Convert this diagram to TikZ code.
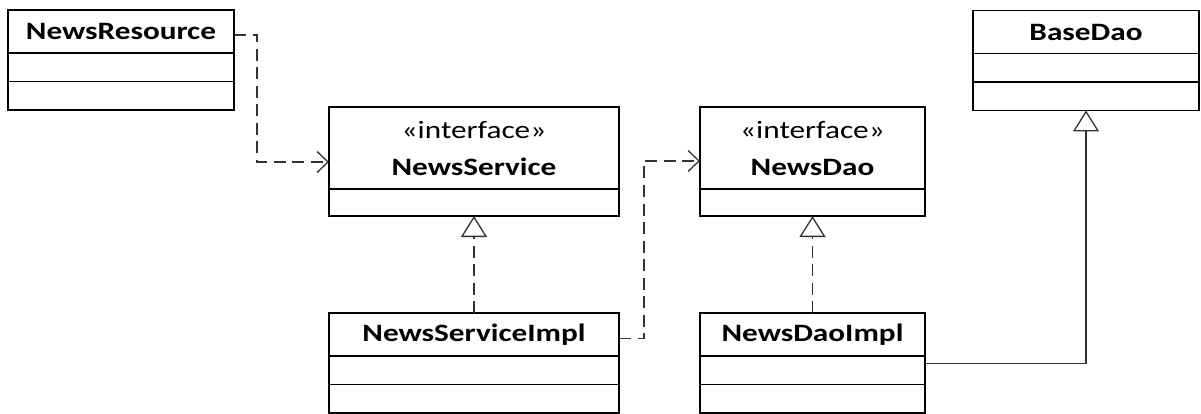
\documentclass[tikz,border=0pt]{standalone}
\usepackage{fontspec}
\setmainfont{Carlito}[FakeStretch=1.25]
\usetikzlibrary{positioning, arrows.meta}

\tikzset{
    box/.style={draw, line width=1.6pt, inner sep=0pt, outer sep=0pt},
    classname/.style={box, font=\fontsize{25}{37}\selectfont\bfseries, minimum height=43pt},
    iface/.style={classname, align=center, minimum height=82pt},
    compart/.style={box, minimum height=28.5pt},
    link/.style={draw=black!80, line width=1.3pt},
    uses/.style={link, dash pattern=on 12pt off 6.5pt, -{Straight Barb[length=11pt, width=21pt]}},
    realizes/.style={link, dash pattern=on 12pt off 6.5pt, -{Triangle[open, length=21pt, width=26pt]}},
    extends/.style={link, -{Triangle[open, length=21pt, width=26pt]}}
}

\begin{document}
\begin{tikzpicture}[x=1pt, y=1pt]
    \useasboundingbox (0,0) rectangle (1201,-414);

    % resource class
    \node[classname, minimum width=226pt] (res) at (121,-31.5) {NewsResource};
    \node[compart, minimum width=226pt, below=0pt of res] (res-attr) {};
    \node[compart, minimum width=226pt, below=0pt of res-attr] (res-ops) {};

    % service interface and its implementation
    \node[iface, minimum width=290pt] (svc) at (474,-148) {{\mdseries «interface»}\\NewsService};
    \node[compart, minimum width=290pt, minimum height=27pt, below=0pt of svc] (svc-ops) {};

    \node[classname, minimum width=290pt] (svcimpl) at (474,-334.5) {NewsServiceImpl};
    \node[compart, minimum width=290pt, below=0pt of svcimpl] (svcimpl-attr) {};
    \node[compart, minimum width=290pt, below=0pt of svcimpl-attr] (svcimpl-ops) {};

    % dao interface and its implementation
    \node[iface, minimum width=225pt] (dao) at (812.5,-148) {{\mdseries «interface»}\\NewsDao};
    \node[compart, minimum width=225pt, minimum height=27pt, below=0pt of dao] (dao-ops) {};

    \node[classname, minimum width=225pt] (daoimpl) at (812.5,-334.5) {NewsDaoImpl};
    \node[compart, minimum width=225pt, below=0pt of daoimpl] (daoimpl-attr) {};
    \node[compart, minimum width=225pt, below=0pt of daoimpl-attr] (daoimpl-ops) {};

    % base class
    \node[classname, minimum width=226pt] (base) at (1086,-32) {BaseDao};
    \node[compart, minimum width=226pt, below=0pt of base] (base-attr) {};
    \node[compart, minimum width=226pt, below=0pt of base-attr] (base-ops) {};

    % dependencies
    \draw[uses] ([yshift=-3.5pt]res.east) -- ++(23,0) |- ([yshift=-14pt]svc.west);
    \draw[uses] ([yshift=-4pt]svcimpl.east) -- ++(25,0) |- ([yshift=-13pt]dao.west);

    % realizations and inheritance
    \draw[realizes] (svcimpl) -- (svc-ops);
    \draw[realizes] (daoimpl) -- (dao-ops);
    \draw[extends] ([yshift=7pt]daoimpl-attr.east) -| (base-ops);
\end{tikzpicture}
\end{document}
